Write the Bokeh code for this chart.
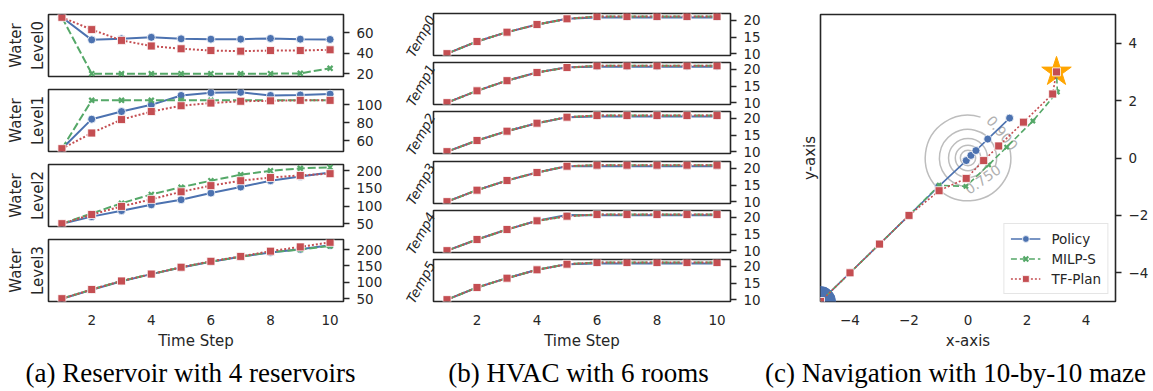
import math
from bokeh.plotting import figure
from bokeh.models import Range1d, FixedTicker, LinearAxis, Title
from bokeh.layouts import row, column
from bokeh.embed import file_html
from bokeh.resources import INLINE
from bokeh.core.properties import value

# ---------------- data ----------------
steps = [1, 2, 3, 4, 5, 6, 7, 8, 9, 10]

# (a) Reservoir: water levels
w0_policy = [75, 53, 54, 55.5, 54, 53.7, 53.7, 54.4, 53.7, 53.4]
w0_milp = [75, 20, 20, 20, 20, 20, 20, 20, 20.3, 25.2]
w0_tfplan = [75, 63, 52.5, 47, 44.3, 42.6, 42, 42.6, 42.6, 43.3]

w1_policy = [51, 84, 92.5, 100, 110.5, 113.5, 114, 110.5, 111, 112]
w1_milp = [51, 105, 105, 105, 105, 105, 105, 105, 105, 105]
w1_tfplan = [51, 68.5, 83.5, 92.5, 99, 102, 104, 104.5, 105, 105]

w2_policy = [50, 70, 87, 103.6, 118, 137, 154, 172, 184, 195]
w2_milp = [50, 79, 108, 133, 153.6, 172, 189, 200, 207, 210]
w2_tfplan = [50, 76, 99, 119, 140.6, 158, 172, 181, 187, 192]

w3_policy = [50, 77, 103, 125, 145, 163, 178, 191, 201, 213]
w3_milp = [50, 78, 104, 125, 146, 163, 178, 192, 200, 211]
w3_tfplan = [50, 78, 104, 125, 146, 164, 179, 195, 208, 222]

water_line1 = ["Water", "Water", "Water", "Water"]
water_line2 = ["Level0", "Level1", "Level2", "Level3"]
water_ticks = [[20, 40, 60], [60, 80, 100], [50, 100, 150, 200], [50, 100, 150, 200]]

# (b) HVAC: room temperatures
t0_policy = [10, 13.65, 16.45, 18.75, 20.45, 20.85, 20.85, 20.85, 20.85, 20.85]
t0_milp = [10, 13.65, 16.45, 18.75, 20.45, 21.15, 21.15, 21.15, 21.15, 21.15]
t0_tfplan = [10, 13.65, 16.45, 18.75, 20.45, 21.15, 21.15, 21.15, 21.15, 21.15]

t1_policy = [10, 13.55, 16.6, 19.05, 20.6, 20.75, 20.75, 20.75, 20.75, 20.75]
t1_milp = [10, 13.55, 16.6, 19.05, 20.55, 21.05, 21.05, 21.05, 21.05, 21.05]
t1_tfplan = [10, 13.55, 16.6, 19.05, 20.55, 21.05, 21.05, 21.05, 21.05, 21.05]

t2_policy = [10, 13.35, 16.15, 18.55, 20.35, 20.55, 20.55, 20.55, 20.55, 20.55]
t2_milp = [10, 13.35, 16.15, 18.55, 20.35, 20.85, 20.85, 20.85, 20.85, 20.85]
t2_tfplan = [10, 13.35, 16.15, 18.55, 20.35, 20.85, 20.85, 20.85, 20.85, 20.85]

t3_policy = [10, 13.45, 16.35, 18.75, 20.65, 20.65, 20.65, 20.65, 20.65, 20.65]
t3_milp = [10, 13.45, 16.35, 18.75, 20.65, 20.95, 20.95, 20.95, 20.95, 20.95]
t3_tfplan = [10, 13.45, 16.35, 18.75, 20.65, 20.95, 20.95, 20.95, 20.95, 20.95]

t4_policy = [10, 13.35, 16.35, 18.95, 20.7, 20.6, 20.6, 20.6, 20.6, 20.6]
t4_milp = [10, 13.35, 16.35, 18.95, 20.35, 20.85, 20.85, 20.85, 20.85, 20.85]
t4_tfplan = [10, 13.35, 16.35, 18.95, 20.35, 20.85, 20.85, 20.85, 20.85, 20.85]

t5_policy = [10, 13.65, 16.45, 18.95, 20.65, 20.85, 20.85, 20.85, 20.85, 20.85]
t5_milp = [10, 13.65, 16.45, 18.95, 20.65, 21.15, 21.15, 21.15, 21.15, 21.15]
t5_tfplan = [10, 13.65, 16.45, 18.95, 20.65, 21.15, 21.15, 21.15, 21.15, 21.15]

temp_labels = ["Temp0", "Temp1", "Temp2", "Temp3", "Temp4", "Temp5"]
temp_ticks = [10, 15, 20]
temp_range = [9.45, 22.05]

# (c) Navigation trajectories
policy_x = [-5, -4, -3, -2, -1, -0.06, 0.10, 0.27, 0.67, 1.41]
policy_y = [-5, -4, -3, -2, -1, -0.09, 0.09, 0.26, 0.66, 1.39]
milp_x = [-5, -4, -3, -2, -0.98, -0.07, 0.70, 1.31, 2.20, 3.03, 3.0]
milp_y = [-5, -4, -3, -2, -0.95, -0.99, -0.24, 0.38, 1.29, 2.30, 3.0]
tfplan_x = [-5, -4, -3, -2, -0.98, -0.06, 0.53, 1.04, 1.88, 2.87, 3.0]
tfplan_y = [-5, -4, -3, -2, -1.14, -0.71, -0.09, 0.42, 1.25, 2.23, 3.0]
start_xy = [-5, -5]
goal_xy = [3, 3]
contour_radii = [0.26, 0.43, 0.66, 0.97, 1.45]
contour_label_text = ["0.750", "0.900"]
contour_label_x = [0.50, 1.16]
contour_label_y = [-0.75, 0.87]
nav_ticks = [-4, -2, 0, 2, 4]

captions = ["(a) Reservoir with 4 reservoirs", "(b) HVAC with 6 rooms", "(c) Navigation with 10-by-10 maze"]
caption_centers = [190, 578, 955]

# ---------------- style ----------------
BLUE = "#4C72B0"
GREEN = "#55A868"
RED = "#C44E52"
INK = "#262626"
FONT = "DejaVu Sans"
SERIF = "Liberation Serif, Times New Roman, serif"


def make_fig(fw, fh, xr, yr, t, b, l, r, xaxis, yticks):
    p = figure(frame_width=fw, frame_height=fh, x_range=xr, y_range=yr,
               output_backend="svg", toolbar_location=None,
               x_axis_location="below" if xaxis else None, y_axis_location="right",
               min_border_top=t, min_border_bottom=b, min_border_left=l, min_border_right=r)
    p.grid.visible = False
    p.outline_line_color = INK
    p.outline_line_width = 1.6
    p.outline_line_alpha = 1.0
    p.background_fill_color = "white"
    p.border_fill_color = "white"
    for ax in p.yaxis:
        ax.ticker = FixedTicker(ticks=yticks)
        ax.axis_line_color = None
        ax.major_tick_out = 6
        ax.major_tick_in = 0
        ax.minor_tick_out = 0
        ax.minor_tick_in = 0
        ax.major_tick_line_color = INK
        ax.major_tick_line_width = 1.3
        ax.major_label_text_font = FONT
        ax.major_label_text_font_size = "13.5px"
        ax.major_label_text_color = INK
        ax.major_label_standoff = 7
    for ax in p.xaxis:
        ax.axis_line_color = None
        ax.major_tick_out = 0
        ax.major_tick_in = 0
        ax.minor_tick_out = 0
        ax.minor_tick_in = 0
        ax.major_label_text_font = FONT
        ax.major_label_text_font_size = "13.5px"
        ax.major_label_text_color = INK
        ax.major_label_standoff = 13
        ax.axis_label_text_font = FONT
        ax.axis_label_text_font_size = "15px"
        ax.axis_label_text_font_style = "normal"
        ax.axis_label_text_color = INK
        ax.axis_label_standoff = 4
    return p


def side_title(p, text, standoff):
    p.add_layout(Title(text=text, align="center", text_font=FONT, text_font_size="15px",
                       text_font_style="normal", text_color=INK, standoff=standoff), "left")


def draw_series(p, x, y, color, dash, marker, lw=2.0, size=8, legend=None):
    kw = {} if legend is None else {"legend_label": legend}
    p.line(x, y, line_color=color, line_width=lw, line_dash=dash, **kw)
    if marker == "x":
        p.scatter(x, y, marker="x", size=size, line_color=color, line_width=2.2, **kw)
    else:
        p.scatter(x, y, marker=marker, size=size, fill_color=color, line_color="white",
                  line_width=0.8, **kw)


def yrange(*series):
    lo = min(min(s) for s in series)
    hi = max(max(s) for s in series)
    pad = 0.05 * (hi - lo)
    return Range1d(lo - pad, hi + pad)


# ---------------- panel (a) ----------------
water = [(w0_policy, w0_milp, w0_tfplan), (w1_policy, w1_milp, w1_tfplan),
         (w2_policy, w2_milp, w2_tfplan), (w3_policy, w3_milp, w3_tfplan)]
a_tops = [14, 6, 6, 6]
a_bots = [7, 7, 7, 52]
figs_a = []
for i, (pol, mil, tfp) in enumerate(water):
    last = i == 3
    yr = yrange(pol, mil, tfp)
    p = make_fig(295, 62, Range1d(0.55, 10.45), yr, a_tops[i], a_bots[i], 48, 49, last, water_ticks[i])
    if last:
        p.xaxis.ticker = FixedTicker(ticks=[2, 4, 6, 8, 10])
        p.xaxis.axis_label = "Time Step"
    draw_series(p, steps, pol, BLUE, "solid", "circle")
    draw_series(p, steps, mil, GREEN, "8 3", "x", size=7)
    draw_series(p, steps, tfp, RED, "2 2", "square")
    side_title(p, water_line2[i], 4)
    side_title(p, water_line1[i], 0)
    figs_a.append(p)

# ---------------- panel (b) ----------------
temps = [(t0_policy, t0_milp, t0_tfplan), (t1_policy, t1_milp, t1_tfplan),
         (t2_policy, t2_milp, t2_tfplan), (t3_policy, t3_milp, t3_tfplan),
         (t4_policy, t4_milp, t4_tfplan), (t5_policy, t5_milp, t5_tfplan)]
b_tops = [13, 1, 1, 2, 1, 1]
b_bots = [6, 6, 6, 6, 6, 52]
figs_b = []
for i, (pol, mil, tfp) in enumerate(temps):
    last = i == 5
    yr = Range1d(temp_range[0], temp_range[1])
    p = make_fig(297, 42, Range1d(0.55, 10.45), yr, b_tops[i], b_bots[i], 41, 48, last, temp_ticks)
    if last:
        p.xaxis.ticker = FixedTicker(ticks=[2, 4, 6, 8, 10])
        p.xaxis.axis_label = "Time Step"
    draw_series(p, steps, pol, BLUE, "solid", "circle", lw=2.0, size=7)
    draw_series(p, steps, mil, GREEN, "8 3", "x", lw=2.0, size=6)
    draw_series(p, steps, tfp, RED, "2 2", "square", lw=2.0, size=8)
    anchor = round(yr.end - (yr.end - yr.start) * 2.8 / 42, 4)
    lab = LinearAxis(ticker=FixedTicker(ticks=[anchor]), major_label_overrides={anchor: temp_labels[i]},
                     major_label_orientation=1.07, major_tick_out=0, major_tick_in=0,
                     minor_tick_out=0, minor_tick_in=0, axis_line_color=None,
                     major_label_standoff=2, major_label_text_font=FONT,
                     major_label_text_font_size="13.5px", major_label_text_font_style="italic",
                     major_label_text_color=INK)
    p.add_layout(lab, "left")
    figs_b.append(p)

# ---------------- panel (c) ----------------
pc = make_fig(295, 287, Range1d(-5, 5), Range1d(-5, 5), 14, 52, 42, 38, True, nav_ticks)
pc.xaxis.ticker = FixedTicker(ticks=nav_ticks)
pc.xaxis.axis_label = "x-axis"
pc.xaxis.major_label_overrides = {t: str(t).replace("-", "\u2212") for t in nav_ticks}
pc.yaxis.major_label_overrides = {t: str(t).replace("-", "\u2212") for t in nav_ticks}
side_title(pc, "y-axis", 4)

gaps = {1.45: (math.radians(13), math.radians(73)), 0.97: (math.radians(-95), math.radians(-18))}
for r in contour_radii:
    if r in gaps:
        g1, g2 = gaps[r]
        pc.arc(x=[0], y=[0], radius=[r], start_angle=[g2], end_angle=[g1 + 2 * math.pi],
               line_color="#bdbdbd", line_width=1.5)
    else:
        pc.circle(x=[0], y=[0], radius=[r], fill_color=None, line_color="#bdbdbd", line_width=1.5)
pc.text(x=contour_label_x, y=contour_label_y, text=contour_label_text, angle=[0.61, -0.87],
        text_font=value(FONT), text_font_size="14px", text_color="#b0b0b0",
        text_align="center", text_baseline="middle")

pc.scatter([goal_xy[0]], [goal_xy[1]], marker="star", size=31, fill_color="orange", line_color="orange")
pc.scatter([start_xy[0]], [start_xy[1]], marker="circle", size=30, fill_color=BLUE, line_color=BLUE)
draw_series(pc, policy_x, policy_y, BLUE, "solid", "circle", lw=1.6, size=8, legend="Policy")
draw_series(pc, milp_x, milp_y, GREEN, "6 3", "x", lw=1.6, size=6, legend="MILP-S")
draw_series(pc, tfplan_x, tfplan_y, RED, "2 2", "square", lw=1.6, size=8, legend="TF-Plan")
lg = pc.legend[0]
lg.location = "bottom_right"
lg.margin = 7
lg.padding = 6
lg.spacing = 3
lg.glyph_width = 30
lg.glyph_height = 17
lg.label_height = 17
lg.label_standoff = 11
lg.label_text_font = FONT
lg.label_text_font_size = "13.5px"
lg.label_text_color = INK
lg.border_line_color = "#cccccc"
lg.border_line_width = 1
lg.background_fill_alpha = 0.85

# ---------------- captions ----------------
cap = figure(width=1153, height=38, x_range=Range1d(0, 1153), y_range=Range1d(0, 38),
             output_backend="svg", toolbar_location=None, min_border=0,
             x_axis_location=None, y_axis_location=None)
cap.grid.visible = False
cap.outline_line_color = None
cap.text(x=caption_centers, y=[19, 19, 19], text=captions,
         text_font=value(SERIF), text_font_size="27px", text_color="black",
         text_align="center", text_baseline="middle")

layout = column(row(column(*figs_a), column(*figs_b), pc), cap)
open("out.html", "w").write(file_html(layout, INLINE))
